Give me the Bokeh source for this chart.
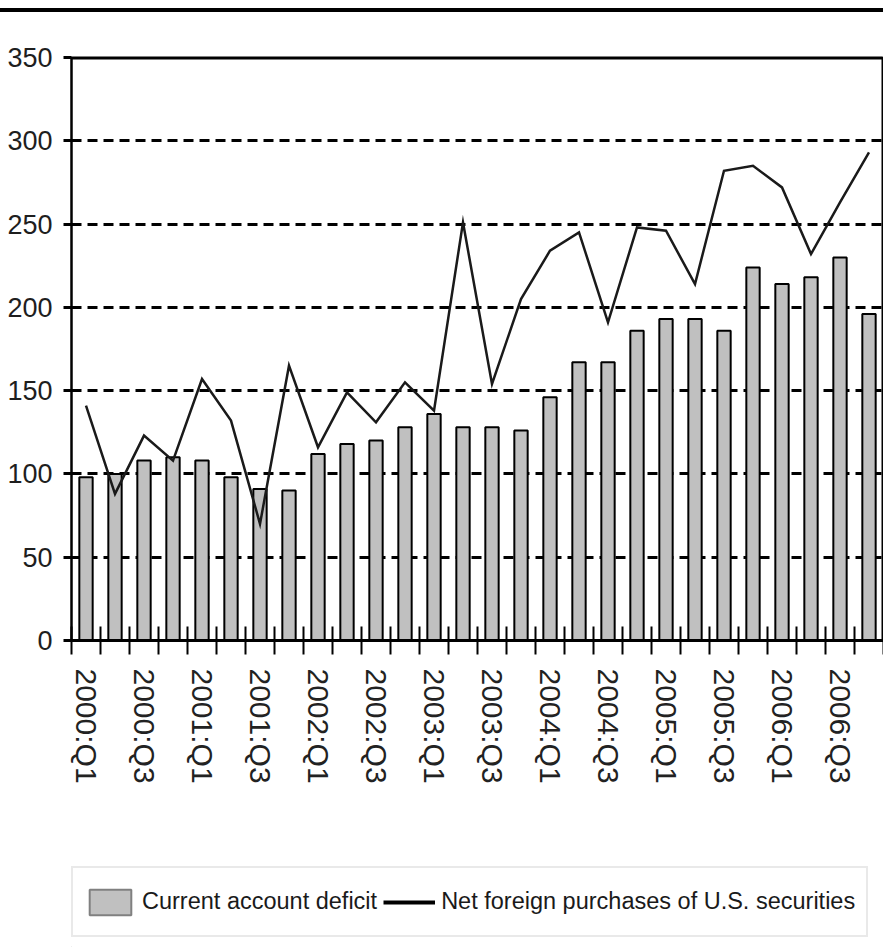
import math

from bokeh.embed import file_html
from bokeh.layouts import column
from bokeh.models import Div, FixedTicker, Legend, LegendItem, Span
from bokeh.plotting import figure
from bokeh.resources import INLINE

# Quarterly data, billions of dollars
quarters = [
    "2000:Q1", "2000:Q2", "2000:Q3", "2000:Q4",
    "2001:Q1", "2001:Q2", "2001:Q3", "2001:Q4",
    "2002:Q1", "2002:Q2", "2002:Q3", "2002:Q4",
    "2003:Q1", "2003:Q2", "2003:Q3", "2003:Q4",
    "2004:Q1", "2004:Q2", "2004:Q3", "2004:Q4",
    "2005:Q1", "2005:Q2", "2005:Q3", "2005:Q4",
    "2006:Q1", "2006:Q2", "2006:Q3", "2006:Q4",
]
current_account_deficit = [
    98, 100, 108, 110, 108, 98, 91, 90,
    112, 118, 120, 128, 136, 128, 128, 126,
    146, 167, 167, 186, 193, 193, 186, 224,
    214, 218, 230, 196,
]
net_foreign_purchases = [
    141, 88, 123, 108, 157, 132, 70, 165,
    116, 149, 131, 155, 138, 251, 154, 205,
    234, 245, 191, 248, 246, 214, 282, 285,
    272, 232, 263, 293,
]
labelled_quarters = [
    "2000:Q1", "2000:Q3", "2001:Q1", "2001:Q3", "2002:Q1", "2002:Q3",
    "2003:Q1", "2003:Q3", "2004:Q1", "2004:Q3", "2005:Q1", "2005:Q3",
    "2006:Q1", "2006:Q3",
]
y_ticks = [0, 50, 100, 150, 200, 250, 300, 350]

FONT = "Liberation Sans"
BAR_FILL = "#c0c0c0"
n = len(quarters)
positions = list(range(n))

p = figure(
    width=883, height=838,
    x_range=(-0.5, n - 0.5), y_range=(0, 350),
    output_backend="svg", toolbar_location=None,
    min_border_left=71, min_border_right=0,
    min_border_top=45, min_border_bottom=210,
    background_fill_color="white", border_fill_color="white",
)

# bars: current account deficit
p.vbar(x=positions, top=current_account_deficit, width=0.46, bottom=0,
       fill_color=BAR_FILL, line_color="black", line_width=2)

# line: net foreign purchases
p.line(x=positions, y=net_foreign_purchases, line_color="#1a1a1a",
       line_width=2.5, line_join="miter")

# y axis
yax = p.yaxis[0]
yax.ticker = FixedTicker(ticks=y_ticks, minor_ticks=[])
yax.axis_line_color = "black"
yax.axis_line_width = 2
yax.major_tick_in = 0
yax.major_tick_out = 8
yax.major_tick_line_width = 3
yax.minor_tick_line_color = None
yax.major_label_standoff = 11
yax.major_label_text_font = FONT
yax.major_label_text_font_size = "27px"
yax.major_label_text_color = "#1e1e1e"

# x axis: labels at every other quarter, ticks on the bar boundaries
xax = p.xaxis[0]
xax.ticker = FixedTicker(
    ticks=[quarters.index(q) for q in labelled_quarters],
    minor_ticks=[i - 0.5 for i in range(n + 1)],
)
xax.major_label_overrides = {quarters.index(q): q for q in labelled_quarters}
xax.major_label_orientation = -math.pi / 2
xax.major_tick_line_color = None
xax.major_tick_in = 0
xax.major_tick_out = 14
xax.minor_tick_line_color = "black"
xax.minor_tick_line_width = 2
xax.minor_tick_in = 14
xax.minor_tick_out = 14
xax.axis_line_color = "black"
xax.axis_line_width = 3
xax.major_label_standoff = 14
xax.major_label_text_font = FONT
xax.major_label_text_font_size = "30px"
xax.major_label_text_color = "#222222"

# grid
p.xgrid.visible = False
p.ygrid.ticker = FixedTicker(ticks=y_ticks[1:-1], minor_ticks=[])
p.ygrid.grid_line_color = "black"
p.ygrid.grid_line_width = 3
p.ygrid.grid_line_dash = "10 6"

p.outline_line_color = "black"
p.outline_line_width = 2
p.add_layout(Span(location=y_ticks[-1], dimension="width",
                  line_color="black", line_width=4))

# legend strip under the chart; its swatch renderers sit outside the view
lg = figure(
    width=883, height=97, x_range=(0, 1), y_range=(0, 1),
    x_axis_type=None, y_axis_type=None,
    output_backend="svg", toolbar_location=None, min_border=0,
    background_fill_color="white", border_fill_color="white",
)
lg.grid.visible = False
lg.outline_line_color = None
legend_bar = lg.vbar(x=[-5], top=[0], width=0.5, fill_color=BAR_FILL,
                     line_color="#808080", line_width=2)
legend_line = lg.line(x=[-5, -4], y=[0, 0], line_color="black", line_width=4)
legend = Legend(
    items=[
        LegendItem(label="Current account deficit", renderers=[legend_bar]),
        LegendItem(label="Net foreign purchases of U.S. securities",
                   renderers=[legend_line]),
    ],
    orientation="horizontal",
    location=(0, 10),
    padding=11, spacing=6, label_standoff=6,
    glyph_width=52, glyph_height=32, label_height=45,
    label_text_font=FONT, label_text_font_size="23.5px",
    label_text_color="#1a1a1a",
    border_line_color="#d4d4d4", border_line_width=2,
    background_fill_color="white", background_fill_alpha=1.0,
)
lg.add_layout(legend, "center")

# heavy rule across the top of the page
rule = Div(text="", width=883, height=4, margin=(8, 0, 0, 0),
           styles={"background-color": "black"})

page = column(rule, p, lg, spacing=0)
open("out.html", "w").write(file_html(page, INLINE))
